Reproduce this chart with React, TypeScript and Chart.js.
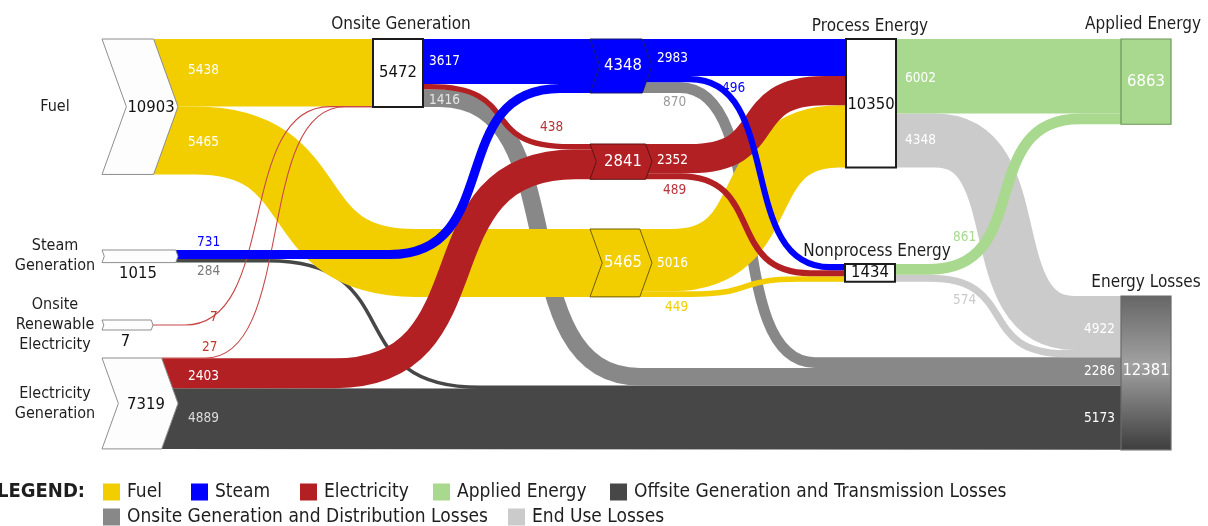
import React, { useEffect, useRef } from 'react';
import { Chart, registerables } from 'chart.js';

Chart.register(...registerables);

const W = 1208;
const H = 526;
const UNITS_PER_PX = 80.5;

// ---------------- DATA ----------------
const nodeNames = [
  'Fuel',
  'Steam\nGeneration',
  'Onsite\nRenewable\nElectricity',
  'Electricity\nGeneration',
  'Onsite Generation',
  'Steam',
  'Electricity',
  'Fuel',
  'Process Energy',
  'Nonprocess Energy',
  'Applied Energy',
  'Energy Losses',
];
const nodeValues = [10903, 1015, 7, 7319, 5472, 4348, 2841, 5465, 10350, 1434, 6863, 12381];

const categories = [
  'Fuel',
  'Steam',
  'Electricity',
  'Applied Energy',
  'Offsite Generation and Transmission Losses',
  'Onsite Generation and Distribution Losses',
  'End Use Losses',
];

const flowFrom = [0, 0, 1, 1, 2, 3, 3, 3, 4, 4, 4, 5, 5, 5, 6, 6, 7, 7, 8, 8, 9, 9];
const flowTo = [4, 7, 5, 11, 4, 4, 6, 11, 5, 6, 11, 8, 9, 11, 8, 9, 8, 9, 10, 11, 10, 11];
const flowValues = [5438, 5465, 731, 284, 7, 27, 2403, 4889, 3617, 438, 1416, 2983, 496, 870, 2352, 489, 5016, 449, 6002, 4348, 861, 574];
const flowCategory = [0, 0, 1, 4, 2, 2, 2, 4, 1, 2, 5, 1, 1, 5, 2, 2, 0, 0, 3, 6, 3, 6];

// ---------------- LAYOUT / STYLE ----------------
const categoryColors = ['#F2CE00', '#0000FF', '#B22024', '#A9D98E', '#474747', '#888888', '#CBCBCB'];
const CHEV = 0.18;

type NodeLayout = {
  kind: 'chev' | 'box';
  x0: number;
  x1: number;
  top: number;
  minH?: number;
  fill: string;
  stroke: string;
  lw: number;
  gradient?: boolean;
  name: 'left' | 'top' | 'none';
  nameDx?: number;
  nameDy?: number;
  value: 'center' | 'below';
  valDx: number;
  valDy: number;
  valColor: string;
  inGroupLabels?: boolean;
};

const nodeLayout: NodeLayout[] = [
  { kind: 'chev', x0: 102, x1: 178, top: 39, fill: '#fdfdfd', stroke: '#8e8e8e', lw: 1, name: 'left', value: 'center', valDx: 11, valDy: 1, valColor: '#111' },
  { kind: 'chev', x0: 102, x1: 178, top: 250, fill: '#fdfdfd', stroke: '#8e8e8e', lw: 1, name: 'left', value: 'below', valDx: -2, valDy: 11, valColor: '#111' },
  { kind: 'chev', x0: 102, x1: 153, top: 320, minH: 10, fill: '#fdfdfd', stroke: '#8e8e8e', lw: 1, name: 'left', value: 'below', valDx: -2, valDy: 12, valColor: '#111' },
  { kind: 'chev', x0: 102, x1: 178, top: 358, fill: '#fdfdfd', stroke: '#8e8e8e', lw: 1, name: 'left', value: 'center', valDx: 6, valDy: 1, valColor: '#111' },
  { kind: 'box', x0: 373, x1: 423, top: 39, fill: '#ffffff', stroke: '#1c1c1c', lw: 2, name: 'top', nameDx: 3, nameDy: -10, value: 'center', valDx: 0, valDy: 0, valColor: '#111' },
  { kind: 'chev', x0: 590, x1: 652, top: 39, fill: '#0000FF', stroke: '#1a1a70', lw: 1, name: 'none', value: 'center', valDx: 2, valDy: 0, valColor: '#ffffff' },
  { kind: 'chev', x0: 590, x1: 652, top: 144, fill: '#B22024', stroke: '#5e1212', lw: 1, name: 'none', value: 'center', valDx: 2, valDy: 0, valColor: '#ffffff' },
  { kind: 'chev', x0: 590, x1: 652, top: 229, fill: '#F2CE00', stroke: '#6e5e00', lw: 1, name: 'none', value: 'center', valDx: 2, valDy: 0, valColor: '#ffffff' },
  { kind: 'box', x0: 846, x1: 896, top: 39, fill: '#ffffff', stroke: '#1c1c1c', lw: 2, name: 'top', nameDx: -1, nameDy: -8, value: 'center', valDx: 0, valDy: 1, valColor: '#111' },
  { kind: 'box', x0: 845, x1: 895, top: 264, fill: '#ffffff', stroke: '#1c1c1c', lw: 2, name: 'top', nameDx: 7, nameDy: -8, value: 'center', valDx: 0, valDy: 0, valColor: '#111' },
  { kind: 'box', x0: 1121, x1: 1171, top: 39, fill: '#A9D98E', stroke: '#6a9658', lw: 1.2, name: 'top', nameDx: -3, nameDy: -10, value: 'center', valDx: 0, valDy: 0, valColor: '#ffffff' },
  { kind: 'box', x0: 1121, x1: 1171, top: 296, fill: '#888', stroke: '#6a6a6a', lw: 1.2, gradient: true, name: 'top', nameDx: 0, nameDy: -9, value: 'center', valDx: 0, valDy: -2, valColor: '#ffffff', inGroupLabels: true },
];

// stacking rank at the target node
const flowInRank = [0, 0, 1, 4, 1, 2, 1, 5, 0, 0, 3, 0, 0, 2, 1, 1, 2, 2, 0, 0, 1, 1];
// curve region [start x, end x, control factor] (null = straight)
const flowCurve: (number[] | null)[] = [
  null, [195, 415, 0.62], [390, 560, 0.68], [268, 480, 0.68], [185, 330, 0.65], [205, 345, 0.65],
  [335, 575, 0.68], null, null, [430, 570, 0.68], [440, 640, 0.7], null,
  [690, 830, 0.68], [680, 815, 0.7], [690, 825, 0.66], [680, 810, 0.66], [672, 840, 0.64], [690, 800, 0.6],
  null, [935, 1075, 0.7], [930, 1080, 0.7], [930, 1065, 0.66],
];
// label offset from source node right edge / band centre
const flowLabel: [number, number, string][] = [
  [10, -2, '#ffffff'], [10, 2, '#ffffff'], [19, -12, '#0000ff'], [19, 11, '#7a7a7a'], [57, -8, '#c0392b'], [24, -11, '#c0392b'],
  [10, 3, '#ffffff'], [10, 0, '#dcdcdc'], [6, 0, '#ffffff'], [117, 41, '#b8333a'], [6, 2, '#e6e6e6'], [5, 1, '#ffffff'],
  [70, 9, '#0000ff'], [11, 15, '#9a9a9a'], [5, 1.5, '#ffffff'], [11, 14, '#b8333a'], [5, 3, '#ffffff'], [13, 13, '#f2ce00'],
  [9, 2, '#ffffff'], [9, 0, '#ffffff'], [58, -32, '#a9d98e'], [58, 22, '#cbcbcb'],
];
const drawOrder = [7, 3, 10, 13, 19, 21, 0, 1, 16, 17, 6, 9, 14, 15, 4, 5, 8, 2, 11, 12, 18, 20];

const legendRows = [[0, 1, 2, 3, 4], [5, 6]];
const legendX = [[103, 191, 300, 433, 610], [103, 508]];
const legendY = [492, 517];

function pickFamily() {
  try {
    const c = document.createElement('canvas').getContext('2d')!;
    const s = 'Onsite Generation 0123456789';
    c.font = '40px monospace';
    const a = c.measureText(s).width;
    c.font = '40px "DejaVu Sans Condensed", monospace';
    const b = c.measureText(s).width;
    if (Math.abs(a - b) > 1) return { fam: '"DejaVu Sans Condensed", "DejaVu Sans", sans-serif', k: 1 };
  } catch (e) {}
  return { fam: '"DejaVu Sans", sans-serif', k: 0.9 };
}

const sankeyPlugin = {
  id: 'sankeyDraw',
  afterDraw(chart: any) {
    const ctx: CanvasRenderingContext2D = chart.ctx;
    const xs = chart.scales.x;
    const ys = chart.scales.y;
    const X = (v: number) => xs.getPixelForValue(v);
    const Y = (u: number) => ys.getPixelForValue(u);
    const F = pickFamily();
    const font = (size: number, bold = false) => `${bold ? 'bold ' : ''}${(size * F.k).toFixed(1)}px ${F.fam}`;

    const geo = nodeValues.map((v, i) => {
      const L = nodeLayout[i];
      const topU = ys.getValueForPixel(L.top);
      const top = Y(topU);
      const vh = Y(topU + v) - top;
      const h = Math.max(vh, L.minH || 0);
      const x0 = X(L.x0);
      const x1 = X(L.x1);
      const d = L.kind === 'chev' ? h * CHEV : 0;
      return { topU, top, h, vh, x0, x1, d, bot: top + h, pad: (h - vh) / 2 };
    });

    // stacking
    const src: { a: number; b: number }[] = [];
    const tgt: { a: number; b: number }[] = [];
    const outCum = nodeValues.map(() => 0);
    flowValues.forEach((v, f) => {
      const s = flowFrom[f];
      const g = geo[s];
      const a = Y(g.topU + outCum[s]) + g.pad;
      const b = Y(g.topU + outCum[s] + v) + g.pad;
      src[f] = { a, b };
      outCum[s] += v;
    });
    nodeValues.forEach((_, n) => {
      const inc = flowValues.map((_, f) => f).filter((f) => flowTo[f] === n).sort((p, q) => flowInRank[p] - flowInRank[q]);
      let cum = 0;
      const g = geo[n];
      inc.forEach((f) => {
        const a = Y(g.topU + cum) + g.pad;
        const b = Y(g.topU + cum + flowValues[f]) + g.pad;
        tgt[f] = { a, b };
        cum += flowValues[f];
      });
    });

    ctx.save();
    ctx.lineCap = 'butt';
    ctx.lineJoin = 'round';
    // flows
    drawOrder.forEach((f) => {
      const s = flowFrom[f];
      const t = flowTo[f];
      const xs0 = geo[s].x1 - geo[s].d;
      const xe = geo[t].x0 + geo[t].d;
      const y0 = (src[f].a + src[f].b) / 2;
      const y1 = (tgt[f].a + tgt[f].b) / 2;
      const w = src[f].b - src[f].a;
      ctx.beginPath();
      ctx.moveTo(xs0, y0);
      const c = flowCurve[f];
      if (c) {
        const cx0 = X(c[0]);
        const cx1 = X(c[1]);
        const k = c[2];
        const span = cx1 - cx0;
        ctx.lineTo(cx0, y0);
        ctx.bezierCurveTo(cx0 + k * span, y0, cx1 - k * span, y1, cx1, y1);
        ctx.lineTo(xe, y1);
      } else {
        ctx.lineTo(xe, y1);
      }
      const thin = w < 1.2;
      ctx.lineWidth = thin ? 1.1 : w;
      ctx.strokeStyle = thin ? '#c8484a' : categoryColors[flowCategory[f]];
      ctx.stroke();
    });

    // nodes
    nodeValues.forEach((v, i) => {
      const L = nodeLayout[i];
      const g = geo[i];
      ctx.beginPath();
      if (L.kind === 'chev') {
        const mid = g.top + g.h / 2;
        ctx.moveTo(g.x0, g.top);
        ctx.lineTo(g.x1 - g.d, g.top);
        ctx.lineTo(g.x1, mid);
        ctx.lineTo(g.x1 - g.d, g.bot);
        ctx.lineTo(g.x0, g.bot);
        ctx.lineTo(g.x0 + g.d, mid);
        ctx.closePath();
      } else {
        ctx.rect(g.x0, g.top, g.x1 - g.x0, g.h);
      }
      if (L.gradient) {
        const gr = ctx.createLinearGradient(0, g.top, 0, g.bot);
        gr.addColorStop(0, '#666666');
        gr.addColorStop(0.45, '#a2a2a2');
        gr.addColorStop(1, '#3e3e3e');
        ctx.fillStyle = gr;
      } else {
        ctx.fillStyle = L.fill;
      }
      ctx.fill();
      ctx.lineWidth = L.lw;
      ctx.strokeStyle = L.stroke;
      ctx.lineJoin = 'miter';
      ctx.stroke();
    });

    // flow labels
    ctx.textBaseline = 'middle';
    ctx.textAlign = 'left';
    ctx.font = font(13.5);
    flowValues.forEach((v, f) => {
      const s = flowFrom[f];
      const [dx, dy, col] = flowLabel[f];
      ctx.fillStyle = col;
      ctx.fillText(String(v), geo[s].x1 + dx, (src[f].a + src[f].b) / 2 + dy);
    });

    // grouped incoming labels (losses)
    nodeValues.forEach((_, n) => {
      if (!nodeLayout[n].inGroupLabels) return;
      const inc = flowValues.map((_, f) => f).filter((f) => flowTo[f] === n).sort((p, q) => flowInRank[p] - flowInRank[q]);
      const groups: { cat: number; sum: number; a: number; b: number }[] = [];
      inc.forEach((f) => {
        const last = groups[groups.length - 1];
        if (last && last.cat === flowCategory[f]) {
          last.sum += flowValues[f];
          last.b = tgt[f].b;
        } else groups.push({ cat: flowCategory[f], sum: flowValues[f], a: tgt[f].a, b: tgt[f].b });
      });
      ctx.textAlign = 'right';
      ctx.fillStyle = '#ffffff';
      groups.forEach((gp, gi) => {
        const dy = [3, 0, 1][gi] || 0;
        ctx.fillText(String(gp.sum), geo[n].x0 - 6, (gp.a + gp.b) / 2 + dy);
      });
    });

    // node values
    nodeValues.forEach((v, i) => {
      const L = nodeLayout[i];
      const g = geo[i];
      const cx = (g.x0 + g.x1) / 2 + L.valDx;
      const cy = L.value === 'center' ? g.top + g.h / 2 + L.valDy : g.bot + L.valDy;
      ctx.font = font(16.5);
      ctx.textAlign = 'center';
      ctx.textBaseline = 'middle';
      ctx.fillStyle = L.valColor;
      ctx.fillText(String(v), cx, cy);
    });

    // node names
    nodeNames.forEach((name, i) => {
      const L = nodeLayout[i];
      const g = geo[i];
      ctx.fillStyle = '#1e1e1e';
      ctx.textAlign = 'center';
      if (L.name === 'left') {
        ctx.font = font(16);
        ctx.textBaseline = 'middle';
        const lines = name.split('\n');
        const lh = 20;
        const cy = g.top + g.h / 2;
        lines.forEach((ln, k) => {
          ctx.fillText(ln, 55, cy + (k - (lines.length - 1) / 2) * lh);
        });
      } else if (L.name === 'top') {
        ctx.font = font(17);
        ctx.textBaseline = 'alphabetic';
        ctx.fillText(name, (g.x0 + g.x1) / 2 + (L.nameDx || 0), g.top + (L.nameDy || 0));
      }
    });

    // legend
    ctx.textBaseline = 'middle';
    ctx.textAlign = 'left';
    ctx.fillStyle = '#1e1e1e';
    ctx.font = font(20, true);
    ctx.fillText('LEGEND:', -3, legendY[0]);
    ctx.font = font(19);
    legendRows.forEach((row, r) => {
      row.forEach((cat, j) => {
        const x = legendX[r][j];
        const y = legendY[r];
        ctx.fillStyle = categoryColors[cat];
        ctx.fillRect(x, y - 8.5, 17, 17);
        ctx.fillStyle = '#1e1e1e';
        ctx.fillText(categories[cat], x + 24, y);
      });
    });
    ctx.restore();
  },
};

export default function App() {
  const ref = useRef<HTMLCanvasElement>(null);
  useEffect(() => {
    const canvas = ref.current;
    if (!canvas) return;
    const chart = new Chart(canvas, {
      type: 'scatter',
      data: { datasets: [{ data: [] }] },
      options: {
        animation: false,
        responsive: false,
        maintainAspectRatio: false,
        events: [],
        layout: { padding: 0 },
        plugins: { legend: { display: false }, tooltip: { enabled: false }, title: { display: false } },
        scales: {
          x: { type: 'linear', min: 0, max: W, display: false },
          y: { type: 'linear', min: 0, max: H * UNITS_PER_PX, reverse: true, display: false },
        },
      },
      plugins: [sankeyPlugin],
    } as any);
    return () => chart.destroy();
  }, []);
  return (
    <div style={{ position: 'absolute', left: 0, top: 0, width: W, height: H, background: '#ffffff', overflow: 'hidden' }}>
      <canvas ref={ref} width={W} height={H} style={{ display: 'block', width: W, height: H }} />
    </div>
  );
}
